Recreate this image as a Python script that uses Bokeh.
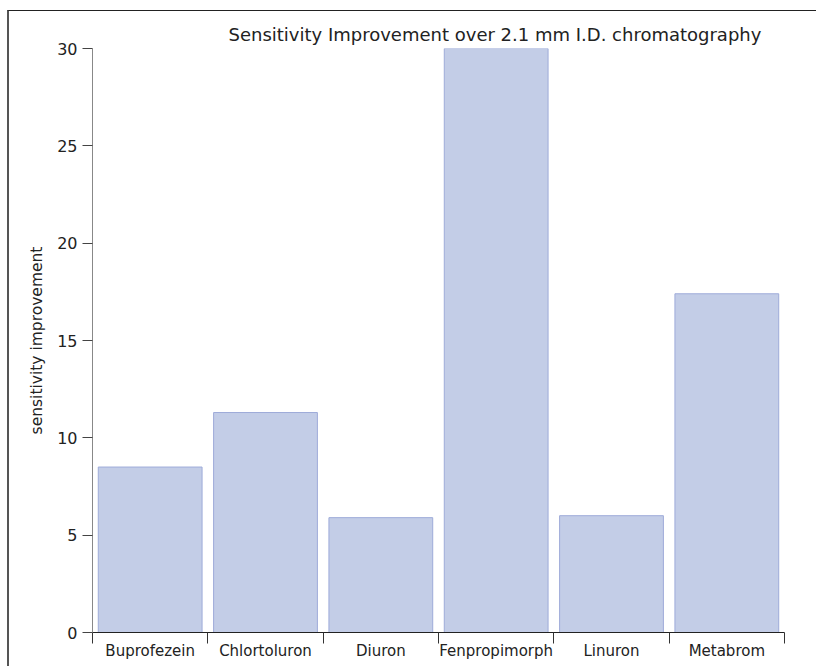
from bokeh.plotting import figure
from bokeh.models import Range1d, FixedTicker, LinearAxis
from bokeh.embed import file_html
from bokeh.resources import INLINE
import numpy as np

compounds = ["Buprofezein", "Chlortoluron", "Diuron", "Fenpropimorph", "Linuron", "Metabrom"]
improvement = [8.5, 11.3, 5.9, 30.0, 6.0, 17.4]
y_ticks = [0, 5, 10, 15, 20, 25, 30]

idx = np.arange(len(compounds))
centers = idx + 0.5
bounds = list(np.arange(len(compounds) + 1).astype(float))

FONT = "DejaVu Sans"

p = figure(width=809, height=656, output_backend="svg", toolbar_location=None,
           x_range=Range1d(0, len(compounds)), y_range=Range1d(0, 30),
           x_axis_type=None, y_axis_type=None,
           min_border_left=83, min_border_right=34, min_border_top=37, min_border_bottom=35)
p.styles = {"margin-left": "7px", "margin-top": "10px",
            "border-left": "2px solid #555555", "border-top": "1px solid #222222"}

p.title.text = "Sensitivity Improvement over 2.1 mm I.D. chromatography"
p.title.text_font = FONT
p.title.text_font_size = "18px"
p.title.text_font_style = "normal"
p.title.text_color = "#222222"
p.title.align = "left"
p.title.offset = 136
p.title.standoff = 8

p.vbar(x=centers, top=improvement, bottom=0, width=0.9,
       fill_color="#c3cde7", line_color="#9eabd9", line_width=1)

xaxis = LinearAxis(ticker=FixedTicker(ticks=list(centers), minor_ticks=bounds))
xaxis.major_label_overrides = {float(c): n for c, n in zip(centers, compounds)}
xaxis.major_tick_out = 0
xaxis.major_tick_in = 0
xaxis.minor_tick_out = 11
xaxis.minor_tick_in = 0
xaxis.minor_tick_line_color = "#333333"
xaxis.axis_line_color = "#222222"
xaxis.major_label_standoff = -2
xaxis.major_label_text_font = FONT
xaxis.major_label_text_font_size = "15px"
xaxis.major_label_text_color = "#222222"
p.add_layout(xaxis, "below")

yaxis = LinearAxis(ticker=FixedTicker(ticks=y_ticks, minor_ticks=[]))
yaxis.axis_label = "sensitivity improvement"
yaxis.axis_label_text_font = FONT
yaxis.axis_label_text_font_size = "15.5px"
yaxis.axis_label_text_font_style = "normal"
yaxis.axis_label_text_color = "#222222"
yaxis.axis_label_standoff = 8
yaxis.major_tick_out = 10
yaxis.major_tick_in = 0
yaxis.major_tick_line_color = "#444444"
yaxis.axis_line_color = "#888888"
yaxis.major_label_standoff = 5
yaxis.major_label_text_font = FONT
yaxis.major_label_text_font_size = "16px"
yaxis.major_label_text_color = "#222222"
p.add_layout(yaxis, "left")

p.xgrid.visible = False
p.ygrid.visible = False
p.grid.visible = False
p.outline_line_color = None
p.background_fill_color = "white"
p.border_fill_color = "white"

open("out.html", "w").write(file_html(p, INLINE))
